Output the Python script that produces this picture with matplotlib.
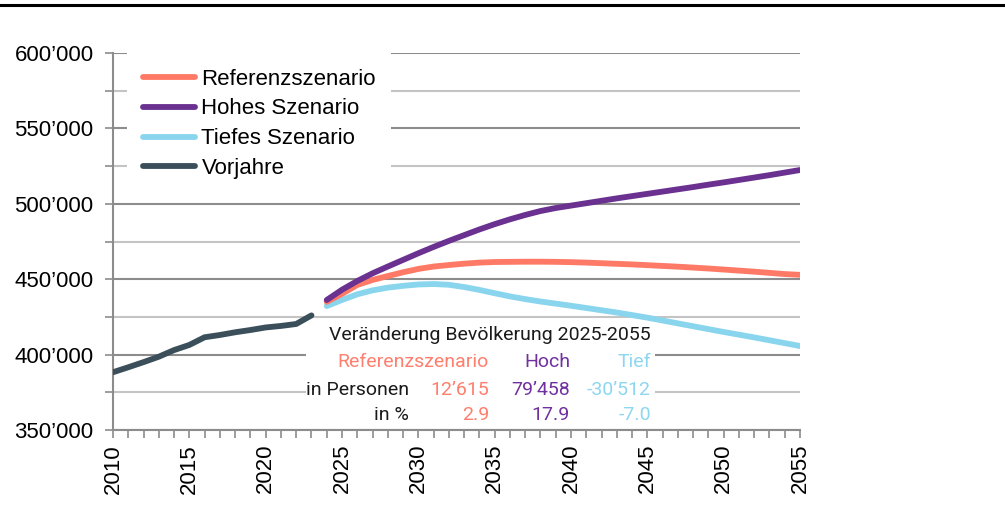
import matplotlib
matplotlib.use('Agg')
import matplotlib.pyplot as plt
from matplotlib.lines import Line2D
from matplotlib.patches import Rectangle
from matplotlib.ticker import FuncFormatter, MultipleLocator

# Daten
jahre_vorjahre = list(range(2010, 2024))
vorjahre = [388300, 391600, 395000, 398600, 403000, 406400, 411500, 413000,
            414800, 416300, 418000, 419000, 420300, 426000]

jahre_szen = list(range(2024, 2056))
referenz = [435000, 440300, 446200, 449500, 452100, 454600, 456800, 458400,
            459400, 460300, 461000, 461400, 461500, 461600, 461600, 461500,
            461300, 461000, 460600, 460200, 459800, 459300, 458800, 458300,
            457700, 457100, 456400, 455700, 455000, 454200, 453400, 452900]
hoch = [436200, 443000, 448800, 453900, 458400, 462800, 467200, 471400,
        475400, 479200, 483000, 486500, 489700, 492600, 495200, 497200,
        498800, 500400, 502000, 503600, 505100, 506600, 508100, 509600,
        511100, 512700, 514200, 515800, 517400, 519000, 520700, 522400]
tief = [432200, 436200, 440000, 442600, 444400, 445600, 446500, 446800,
        446300, 444800, 442900, 440700, 438600, 436800, 435200, 433800,
        432400, 430900, 429400, 427900, 426200, 424500, 422600, 420700,
        418800, 416900, 415000, 413200, 411400, 409500, 407600, 405700]

tab_titel = 'Veränderung Bevölkerung 2025-2055'
tab_spalten = ['Referenzszenario', 'Hoch', 'Tief']
tab_personen = ['12’615', '79’458', '-30’512']
tab_prozent = ['2.9', '17.9', '-7.0']

c_ref = '#FF7A66'
c_hoch = '#6A3191'
c_tief = '#8AD5EE'
c_vor = '#3B4F5B'
c_txt = ['#FF7F6E', '#7030A0', '#8DD6F2']

plt.rcParams['font.family'] = ['Liberation Sans', 'DejaVu Sans']

W, H = 1005, 521
fig = plt.figure(figsize=(W / 100, H / 100), dpi=100)
ax = fig.add_axes([113 / W, 1 - 430 / H, (800 - 113) / W, (430 - 53) / H])

lw = 4.2
ax.plot(jahre_szen, referenz, color=c_ref, lw=lw, label='Referenzszenario',
        solid_capstyle='round', zorder=3)
ax.plot(jahre_szen, hoch, color=c_hoch, lw=lw, label='Hohes Szenario',
        solid_capstyle='round', zorder=4)
ax.plot(jahre_szen, tief, color=c_tief, lw=lw, label='Tiefes Szenario',
        solid_capstyle='round', zorder=2.5)
ax.plot(jahre_vorjahre, vorjahre, color=c_vor, lw=lw, label='Vorjahre',
        solid_capstyle='round', zorder=3)

ax.set_xlim(2010, 2055)
ax.set_ylim(350000, 600000)

ax.yaxis.set_major_locator(MultipleLocator(50000))
ax.yaxis.set_minor_locator(MultipleLocator(25000))
ax.yaxis.set_major_formatter(FuncFormatter(lambda v, p: f'{int(v):,}'.replace(',', '’')))
ax.xaxis.set_major_locator(MultipleLocator(5))
ax.xaxis.set_minor_locator(MultipleLocator(1))

ax.set_axisbelow(True)
ax.grid(True, which='major', axis='y', color='#8c8c8c', lw=1.5)
ax.grid(True, which='minor', axis='y', color='#c4c4c4', lw=1.5)

for s in ['top', 'right']:
    ax.spines[s].set_visible(False)
for s in ['left', 'bottom']:
    ax.spines[s].set_color('#8c8c8c')
    ax.spines[s].set_linewidth(1.5)

ax.tick_params(axis='y', which='both', length=6, width=1.2, color='#8c8c8c',
               labelsize=16, pad=8)
ax.tick_params(axis='x', which='both', length=6, width=1.2, color='#8c8c8c',
               direction='out', labelsize=16, pad=4)
for lab in ax.get_xticklabels():
    lab.set_rotation(90)

leg = ax.legend(loc='upper left', bbox_to_anchor=(127 / W, 1 - 53 / H),
                bbox_transform=fig.transFigure, fontsize=16, frameon=True,
                framealpha=1, edgecolor='none', fancybox=False,
                handlelength=2.35, handletextpad=0.3, labelspacing=0.4,
                borderpad=0.7, borderaxespad=0)
leg.set_zorder(5)

# Tabelle mit Veränderung
box = Rectangle((306 / W, 1 - 428 / H), (655 - 306) / W, (428 - 320) / H,
                transform=fig.transFigure, facecolor='white', edgecolor='none',
                zorder=2)
ax.add_patch(box)
box.set_clip_on(False)

tfam = ['Roboto', 'DejaVu Sans']
fs = 14
def t(x, y, s, c='#1a1a1a'):
    fig.text(x / W, 1 - y / H, s, ha='right', va='center', fontsize=fs,
             color=c, family=tfam, zorder=6)

t(651, 335, tab_titel)
spalten_x = [489, 570, 651]
for i in range(3):
    t(spalten_x[i], 362, tab_spalten[i], c_txt[i])
    t(spalten_x[i], 390, tab_personen[i], c_txt[i])
    t(spalten_x[i], 415, tab_prozent[i], c_txt[i])
t(409, 390, 'in Personen')
t(409, 415, 'in %')

# Linie oben
fig.add_artist(Line2D([0, 1], [1 - 5 / H, 1 - 5 / H], color='black', lw=2.2,
                      transform=fig.transFigure))

fig.savefig('out.png', dpi=100)
